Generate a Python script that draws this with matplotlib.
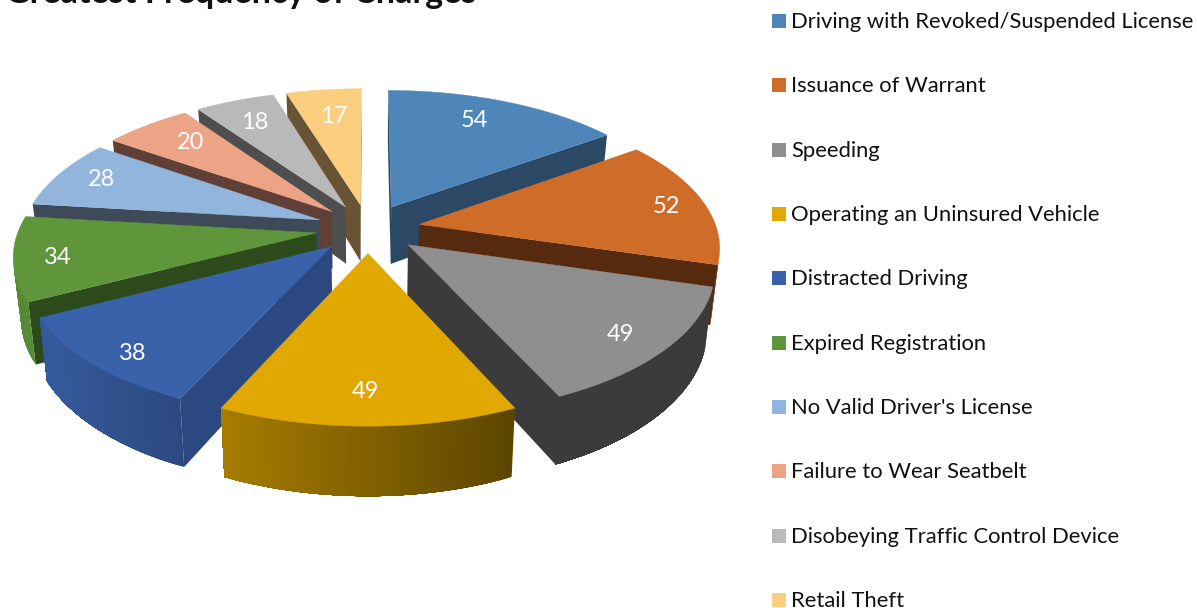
import numpy as np
import matplotlib
matplotlib.use('Agg')
import matplotlib.pyplot as plt
from matplotlib.patches import Polygon, Rectangle

# chart data
categories = ['Driving with Revoked/Suspended License', 'Issuance of Warrant', 'Speeding',
              'Operating an Uninsured Vehicle', 'Distracted Driving', 'Expired Registration',
              "No Valid Driver's License", 'Failure to Wear Seatbelt',
              'Disobeying Traffic Control Device', 'Retail Theft']
values = [54, 52, 49, 49, 38, 34, 28, 20, 18, 17]

# top face, legend and radial wall colours
colors = ['#4E86BA', '#CE6C28', '#8F8F8F', '#E0A800', '#3A62AA',
          '#5F963B', '#92B5DD', '#ECA386', '#B9B9B9', '#FBCE80']
cut_colors = ['#2B4864', '#552A0E', '#3B3B3B', '#5C4500', '#2B4880',
              '#2C4A1A', '#3E4A58', '#603F36', '#4E4E4E', '#685435']
label_frac = [0.72, 0.80, 0.62, 0.62, 0.70, 0.85, 0.85, 0.85, 0.85, 0.85]
label_nudge = [(-2, -8), (19, 1), (59, 28), (-3, 38), (-38, 28),
               (-2, 3), (4, -1), (18, 5), (5, 7), (5, 11)]

# camera settings, in pixels of the 1197x608 picture
CX, CY = 368, 228.5
RX, RY = 297.5, 139.5
PERSP = 0.1455
DEPTH = 58
CONVERGE = 0.022
EXPLODE = 0.175


def project(u, v, down=0.0):
    s = 1 / (1 + PERSP * v)
    return CX + RX * u * s * (1 - CONVERGE * down), CY - RY * v * s + down * DEPTH * s


def signed_area(pts):
    x, y = np.array(pts).T
    return 0.5 * np.sum(x * np.roll(y, -1) - np.roll(x, -1) * y)


def shade(color, factor):
    rgb = np.array(matplotlib.colors.to_rgb(color))
    return tuple(rgb * factor)


def draw_wall(ax, pts, color, zorder):
    # screen space culling, y axis runs downward so front faces have positive area
    if signed_area(pts) <= 0:
        return
    ax.add_patch(Polygon(pts, closed=True, fc=color, ec='none', zorder=zorder))


def strip(u, v, j):
    return [project(u[j], v[j]), project(u[j], v[j], 1), project(u[j + 1], v[j + 1], 1), project(u[j + 1], v[j + 1])]


fig = plt.figure(figsize=(11.97, 6.08), dpi=100)
ax = fig.add_axes([0, 0, 1, 1])
ax.set_xlim(0, 1197)
ax.set_ylim(608, 0)
ax.axis('off')

total = sum(values)
ends = np.cumsum(values) / total * 2 * np.pi
starts = np.concatenate([[0], ends[:-1]])
mids = (starts + ends) / 2

# back slices get painted first
order = np.argsort(-np.cos(mids))

for rank, i in enumerate(order):
    z = 2 + rank
    ou = EXPLODE * np.sin(mids[i])
    ov = EXPLODE * np.cos(mids[i])
    t = np.linspace(starts[i], ends[i], 60)
    rim_u = ou + np.sin(t)
    rim_v = ov + np.cos(t)

    # cut faces, from apex to the two rim ends
    apex_top = project(ou, ov)
    apex_low = project(ou, ov, 1)
    first_top = project(rim_u[0], rim_v[0])
    first_low = project(rim_u[0], rim_v[0], 1)
    last_top = project(rim_u[-1], rim_v[-1])
    last_low = project(rim_u[-1], rim_v[-1], 1)
    draw_wall(ax, [apex_top, apex_low, first_low, first_top], cut_colors[i], z)
    draw_wall(ax, [apex_top, last_top, last_low, apex_low], cut_colors[i], z)

    # outer wall, lighter on the left side
    # each strip runs on to the end of the visible part so the next one hides its seam
    visible = [j for j in range(len(t) - 1) if signed_area(strip(rim_u, rim_v, j)) > 0]
    for k in visible:
        factor = np.clip(0.58 - 0.405 * np.sin(t[k]), 0.41, 0.92)
        stop = visible[-1] + 2
        upper = [project(a, b) for a, b in zip(rim_u[k:stop], rim_v[k:stop])]
        lower = [project(a, b, 1) for a, b in zip(rim_u[k:stop], rim_v[k:stop])]
        ax.add_patch(Polygon(upper + lower[::-1], closed=True, fc=shade(colors[i], factor),
                             ec='none', zorder=z))

    # top face
    top = [apex_top] + [project(a, b) for a, b in zip(rim_u, rim_v)]
    ax.add_patch(Polygon(top, closed=True, fc=colors[i], ec=colors[i], lw=0.3, zorder=z))

    lx, ly = project(ou + label_frac[i] * np.sin(mids[i]), ov + label_frac[i] * np.cos(mids[i]))
    ax.text(lx + label_nudge[i][0], ly + label_nudge[i][1], str(values[i]), color='white',
            fontsize=17, family='Lato', ha='center', va='center', zorder=50)

ax.text(5, 3, 'Greatest Frequency of Charges', fontsize=24.5, family='Lato',
        fontweight='bold', color='#111111', ha='left', va='baseline', clip_on=False)

# legend, one row for each category
for i, name in enumerate(categories):
    y = 21 + i * 64.35
    ax.add_patch(Rectangle((772, y - 7), 14, 14, fc=colors[i], ec='none', zorder=3))
    ax.text(791, y + 1, name, fontsize=15.85, family='Lato', color='#111111', ha='left', va='center')

fig.savefig('out.png', dpi=100)
